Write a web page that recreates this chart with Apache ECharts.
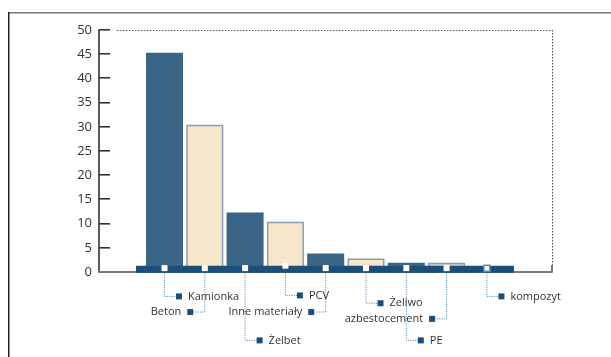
<!DOCTYPE html>
<html><head><meta charset="utf-8">
<script src="https://cdn.jsdelivr.net/npm/echarts@6/dist/echarts.min.js"></script>
<style>html,body{margin:0;padding:0;background:#fff}#c{width:611px;height:357px}</style>
</head><body><div id="c"></div>
<script>
// ---- data ----
const categories = ['Kamionka', 'Beton', 'Żelbet', 'PCV', 'Inne materiały', 'Żeliwo', 'PE', 'azbestocement', 'kompozyt'];
const values = [45.3, 30.4, 12.3, 10.4, 3.8, 2.8, 1.9, 1.9, 0.2];
const barKinds = ['dark', 'cream', 'dark', 'cream', 'dark', 'cream', 'dark', 'grey', 'cream'];
const yMin = 0, yMax = 50, yStep = 5;

// ---- layout (not data) ----
const labelSide = [1, -1, 1, 1, -1, 1, 1, -1, 1];
const labelDepth = [25, 41, 70, 24, 41, 32, 70, 48, 25];
const xMin = -1.625, xMax = 9.615;
const FONT = 'Open Sans';
const DARK = '#3a6586', BAND = '#1b4e78';
const kindStyle = {
  dark: { color: DARK, borderWidth: 0 },
  cream: { color: '#f6e7cb', borderColor: '#8d9cb5', borderWidth: 1.5 },
  grey: { color: '#d6d0c4', borderColor: '#8d9cb5', borderWidth: 1.5 }
};

const barData = values.map((v, i) => ({ value: [i, v], itemStyle: kindStyle[barKinds[i]] }));
const markerData = categories.map((c, i) => ({
  value: [i, i === 3 ? 1.3 : 0.8],
  itemStyle: i === categories.length - 1 ? { color: '#fff', borderColor: '#5b8cb8', borderWidth: 1.5, opacity: 1 } : { color: '#fff', opacity: 1 }
}));
const leaderData = categories.map((c, i) => ({
  coords: [[i, -2], [i, labelDepth[i]], [i + labelSide[i] * 0.29, labelDepth[i]]]
}));
const squareData = categories.map((c, i) => ({
  value: [i + labelSide[i] * 0.36, labelDepth[i]],
  name: c,
  label: { position: labelSide[i] > 0 ? 'right' : 'left' }
}));
const tickValues = [];
for (let v = yMin + yStep; v <= yMax; v += yStep) tickValues.push(v);

const chart = echarts.init(document.getElementById('c'), null, { renderer: 'canvas' });
chart.setOption({
  animation: false,
  backgroundColor: '#fff',
  grid: [
    { left: 99, right: 59, top: 30, bottom: 85 },
    { left: 99, right: 59, top: 270, bottom: 0 }
  ],
  xAxis: [
    { type: 'value', gridIndex: 0, min: xMin, max: xMax, axisLabel: { show: false }, axisTick: { show: false }, splitLine: { show: false },
      axisLine: { show: true, onZero: false, lineStyle: { color: '#7a7a7a', width: 2 } } },
    { type: 'value', gridIndex: 1, min: xMin, max: xMax, show: false }
  ],
  yAxis: [
    { type: 'value', gridIndex: 0, min: yMin, max: yMax, interval: yStep,
      axisLine: { show: true, onZero: false, lineStyle: { color: '#222', width: 1.5 } },
      axisTick: { show: false },
      axisLabel: { fontFamily: FONT, fontSize: 13, color: '#333', margin: 7 },
      splitLine: { show: false } },
    { type: 'value', gridIndex: 1, min: -2, max: 87, inverse: true, show: false }
  ],
  series: [
    { type: 'bar', xAxisIndex: 0, yAxisIndex: 0, barWidth: 37, data: barData, z: 2 },
    { type: 'line', xAxisIndex: 0, yAxisIndex: 0, data: [[-0.707, 0.55], [8.67, 0.55]], symbol: 'none', z: 5,
      lineStyle: { color: BAND, width: 7, cap: 'butt' }, silent: true,
      markLine: { silent: true, symbol: 'none', label: { show: false },
        data: [
          [{ coord: [-1.18, yMax], lineStyle: { color: '#555', type: [1.5, 1.5], width: 1 } }, { coord: [xMax, yMax] }],
          [{ coord: [xMax, yMax], lineStyle: { color: '#555', type: [1.5, 1.5], width: 1 } }, { coord: [xMax, 1.45] }],
          [{ coord: [xMax, 1.45], lineStyle: { color: '#7a7a7a', type: 'solid', width: 2 } }, { coord: [xMax, 0] }]
        ] } },
    { type: 'scatter', xAxisIndex: 0, yAxisIndex: 0, symbol: 'rect', symbolSize: 6, data: markerData, z: 6 },
    { type: 'lines', coordinateSystem: 'cartesian2d', xAxisIndex: 1, yAxisIndex: 1, polyline: true, data: leaderData,
      lineStyle: { color: '#5e8fc0', width: 1, type: [1.2, 1.2], opacity: 1 }, z: 3 },
    { type: 'scatter', xAxisIndex: 1, yAxisIndex: 1, symbol: 'rect', symbolSize: 6, data: squareData, z: 4,
      itemStyle: { color: BAND, opacity: 1 },
      label: { show: true, formatter: p => p.name, fontFamily: FONT, fontSize: 11, color: '#333', distance: 6 } }
  ]
});

// frame + inward y-axis ticks (tick positions from the library's own scale)
const elements = [
  { type: 'rect', z: 100, shape: { x: 8, y: 12, width: 603, height: 1.5 }, style: { fill: '#777' } },
  { type: 'rect', z: 100, shape: { x: 8, y: 12, width: 1.5, height: 345 }, style: { fill: '#222' } }
];
tickValues.forEach(v => {
  const p = chart.convertToPixel({ xAxisIndex: 0, yAxisIndex: 0 }, [xMin, v]);
  if (p && isFinite(p[0]) && isFinite(p[1])) {
    elements.push({ type: 'rect', z: 100, shape: { x: p[0], y: Math.round(p[1]) - 1, width: 11, height: 1.6 }, style: { fill: '#333' } });
  }
});
chart.setOption({ graphic: { elements: elements } });
</script></body></html>
